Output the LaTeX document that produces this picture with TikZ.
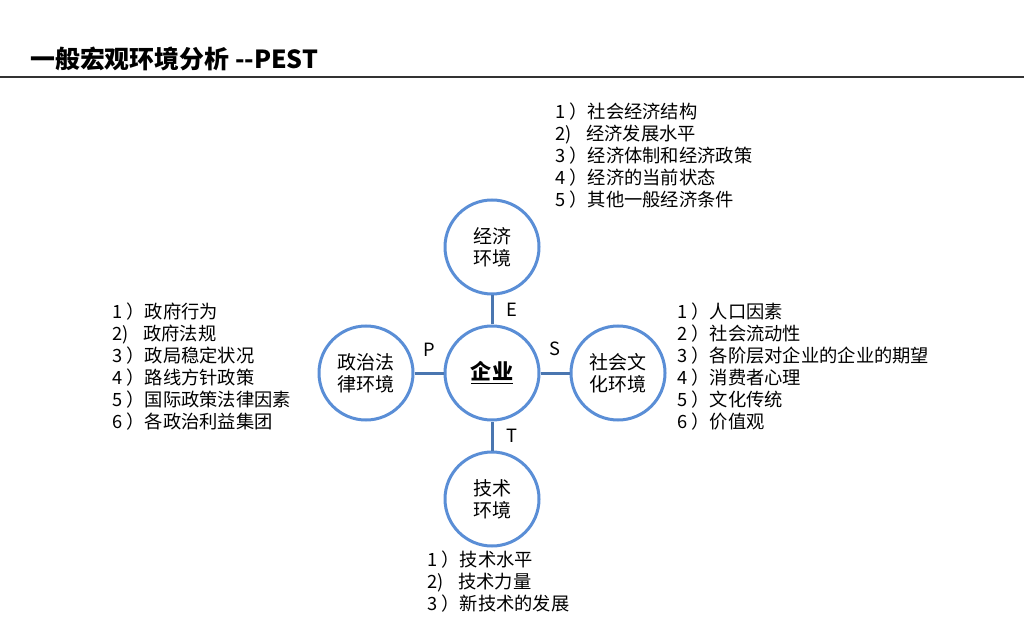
\documentclass[tikz,border=0pt]{standalone}
\usepackage{fontspec}
\setmainfont{Noto Sans CJK SC}
\usepackage{tikz}
\usetikzlibrary{positioning}
\definecolor{ring_blue}{HTML}{5A8ED6}
\definecolor{link_blue}{HTML}{4A76B0}
\newcommand{\numtwo}{2)\hspace{0.8em}}
\tikzset{
env_circle/.style={circle, draw=ring_blue, line width=0.75mm, fill=white, minimum size=23.5mm, inner sep=0pt, align=center, font=\fontsize{13.5}{15.5}\selectfont},
core_circle/.style={env_circle, font=\fontsize{15}{17}\selectfont\bfseries},
link/.style={draw=link_blue, line width=0.75mm},
letter/.style={font=\fontsize{13}{15}\selectfont, inner sep=1pt},
item_list/.style={align=left, anchor=north west, inner sep=0pt, font=\fontsize{13}{15.6}\selectfont}
}

\begin{document}
\begin{tikzpicture}[x=0.25mm, y=-0.25mm]
    \useasboundingbox (0,0) rectangle (1024,640);
    % title and rule
    \node[anchor=west, inner sep=0pt, font=\fontsize{17.7}{21}\selectfont\bfseries] (title) at (30,59) {一般宏观环境分析 -{}-PEST};
    \coordinate (rule_l) at (0,77);
    \coordinate (rule_r) at (1024,77);
    \draw[line width=0.5mm, color=black!80] (rule_l) -- (rule_r);

    % circles
    \node[core_circle] (core) at (492,373) {\underline{企业}};
    \node[env_circle] (econ) [above=7.25mm of core] {经济\\环境};
    \node[env_circle] (tech) [below=7.25mm of core] {技术\\环境};
    \node[env_circle] (poli) [left=7.25mm of core] {政治法\\律环境};
    \node[env_circle] (soci) [right=7.25mm of core] {社会文\\化环境};

    % links
    \draw[link] (econ.south) -- (core.north) node[letter, midway, right=3mm] {E};
    \draw[link] (core.south) -- (tech.north) node[letter, midway, right=3mm] {T};
    \draw[link] (poli.east) -- (core.west) node[letter, midway, above=3.5mm] {P};
    \draw[link] (core.east) -- (soci.west) node[letter, midway, above=3.5mm] {S};

    % lists
    \node[item_list] (econ_list) at (555,103) {1 ）社会经济结构\\\numtwo 经济发展水平\\3 ）经济体制和经济政策\\4 ）经济的当前状态\\5 ）其他一般经济条件};
    \node[item_list] (poli_list) at (112,303) {1 ）政府行为\\\numtwo 政府法规\\3 ）政局稳定状况\\4 ）路线方针政策\\5 ）国际政策法律因素\\6 ）各政治利益集团};
    \node[item_list] (soci_list) at (677,303) {1 ）人口因素\\2 ）社会流动性\\3 ）各阶层对企业的企业的期望\\4 ）消费者心理\\5 ）文化传统\\6 ）价值观};
    \node[item_list] (tech_list) at (427,551) {1 ）技术水平\\\numtwo 技术力量\\3 ）新技术的发展};
\end{tikzpicture}
\end{document}
